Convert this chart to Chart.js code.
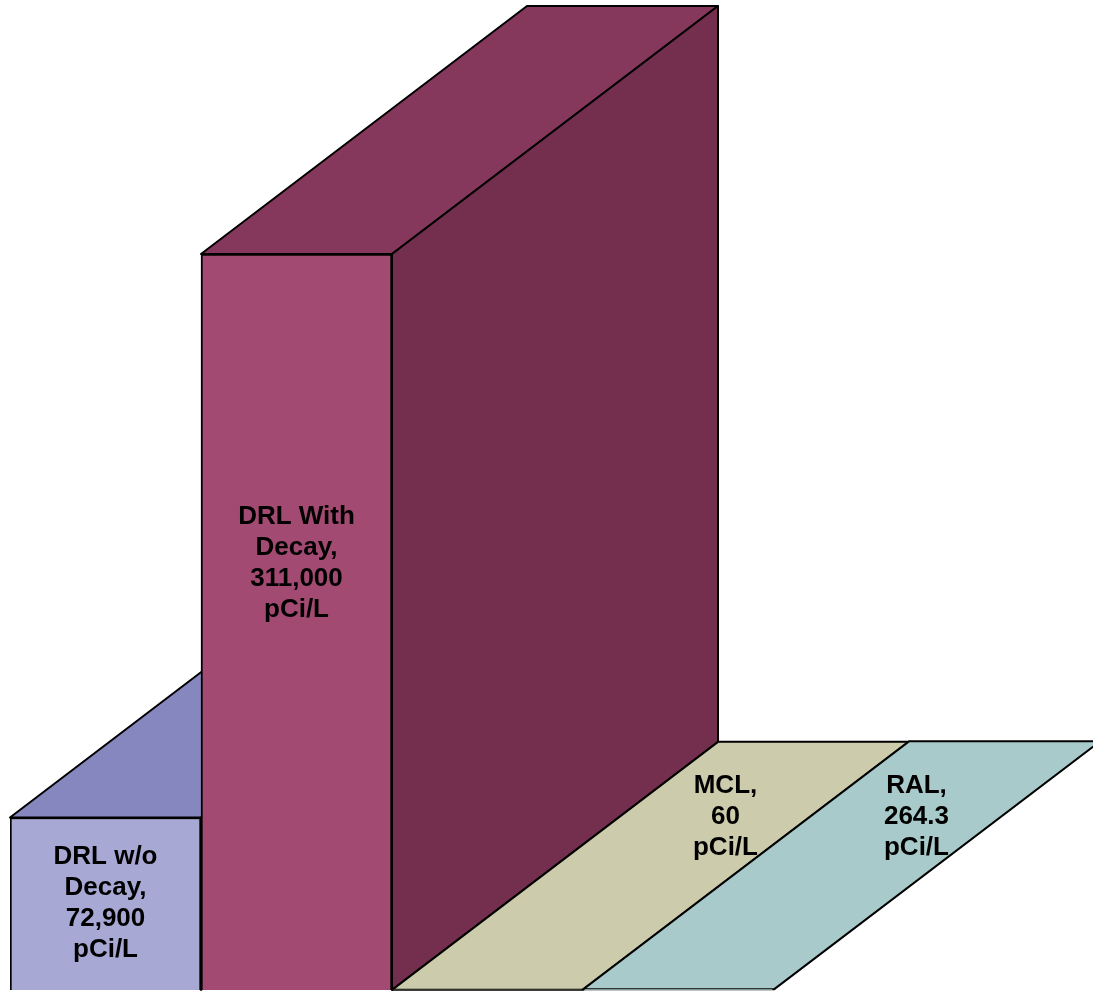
<!DOCTYPE html>
<html>
<head>
<meta charset="utf-8">
<script src="https://cdn.jsdelivr.net/npm/chart.js@4/dist/chart.umd.min.js"></script>
<style>
  html, body { margin: 0; padding: 0; background: #fff; }
  #wrap { width: 1093px; height: 992px; }
</style>
</head>
<body>
<div id="wrap"><canvas id="chartCanvas"></canvas></div>
<script>
// data
var categories = ["DRL w/o Decay", "DRL With Decay", "MCL", "RAL"];
var values = [72900, 311000, 60, 264.3];
var labelLines = [
  ["DRL w/o", "Decay,", "72,900", "pCi/L"],
  ["DRL With", "Decay,", "311,000", "pCi/L"],
  ["MCL,", "60", "pCi/L"],
  ["RAL,", "264.3", "pCi/L"]
];

// colours for each face
var frontColors = ["#a8a8d4", "#a34a72", "#cccbab", "#a8caca"];
var topColors = ["#8787c0", "#85385c", "#cccbab", "#a8caca"];
var sideColors = ["#6c6ca0", "#742e4e", "#aaa98c", "#88aaaa"];

// depth of the 3d extrusion (px)
var depthX = 326;
var depthY = -248;

var ctx = document.getElementById("chartCanvas").getContext("2d");

function poly(c, pts, fill) {
  c.beginPath();
  c.moveTo(pts[0][0], pts[0][1]);
  for (var i = 1; i < pts.length; i++) c.lineTo(pts[i][0], pts[i][1]);
  c.closePath();
  c.fillStyle = fill;
  c.fill();
  c.stroke();
}

var boxes3d = {
  id: "boxes3d",
  beforeDatasetsDraw: function (chart) {
    var c = chart.ctx;
    var meta = chart.getDatasetMeta(0);
    c.save();
    c.strokeStyle = "#000";
    c.lineWidth = 2;
    c.lineJoin = "round";
    for (var i = 0; i < meta.data.length; i++) {
      var bar = meta.data[i];
      var l = bar.x - bar.width / 2;
      var r = bar.x + bar.width / 2;
      var t = bar.y;
      var b = bar.base;
      // top face
      poly(c, [[l, t], [l + depthX, t + depthY], [r + depthX, t + depthY], [r, t]], topColors[i]);
      // right face
      if (b - t > 1) {
        poly(c, [[r, t], [r + depthX, t + depthY], [r + depthX, b + depthY], [r, b]], sideColors[i]);
      }
    }
    c.restore();
  },
  afterDatasetsDraw: function (chart) {
    var c = chart.ctx;
    var meta = chart.getDatasetMeta(0);
    c.save();
    c.fillStyle = "#000";
    c.font = "bold 26px 'Liberation Sans', Arial, sans-serif";
    c.textAlign = "center";
    c.textBaseline = "middle";
    for (var i = 0; i < meta.data.length; i++) {
      var bar = meta.data[i];
      var lines = labelLines[i];
      var cx, cy;
      if (bar.base - bar.y > 20) {
        // on the front face
        cx = bar.x;
        var frac = i == 1 ? 0.42 : 0.5;
        cy = bar.y + (bar.base - bar.y) * frac;
      } else {
        // flat on the floor, pushed back into depth
        cx = bar.x + depthX * 0.73;
        cy = bar.base + depthY * 0.7;
      }
      var lh = 31;
      var y0 = cy - (lines.length - 1) * lh / 2;
      for (var j = 0; j < lines.length; j++) {
        c.fillText(lines[j], cx, y0 + j * lh);
      }
    }
    c.restore();
  }
};

var chart = new Chart(ctx, {
  type: "bar",
  data: {
    labels: categories,
    datasets: [
      {
        data: values,
        backgroundColor: frontColors,
        borderColor: "#000",
        borderWidth: 2,
        barPercentage: 1,
        categoryPercentage: 1
      }
    ]
  },
  options: {
    responsive: true,
    maintainAspectRatio: false,
    animation: false,
    layout: {
      padding: { left: 10, right: 319, top: 254, bottom: 2 }
    },
    scales: {
      x: { display: false },
      y: { display: false, min: 0, max: 311000 }
    },
    plugins: {
      legend: { display: false },
      tooltip: { enabled: false }
    }
  },
  plugins: [boxes3d]
});
</script>
</body>
</html>
